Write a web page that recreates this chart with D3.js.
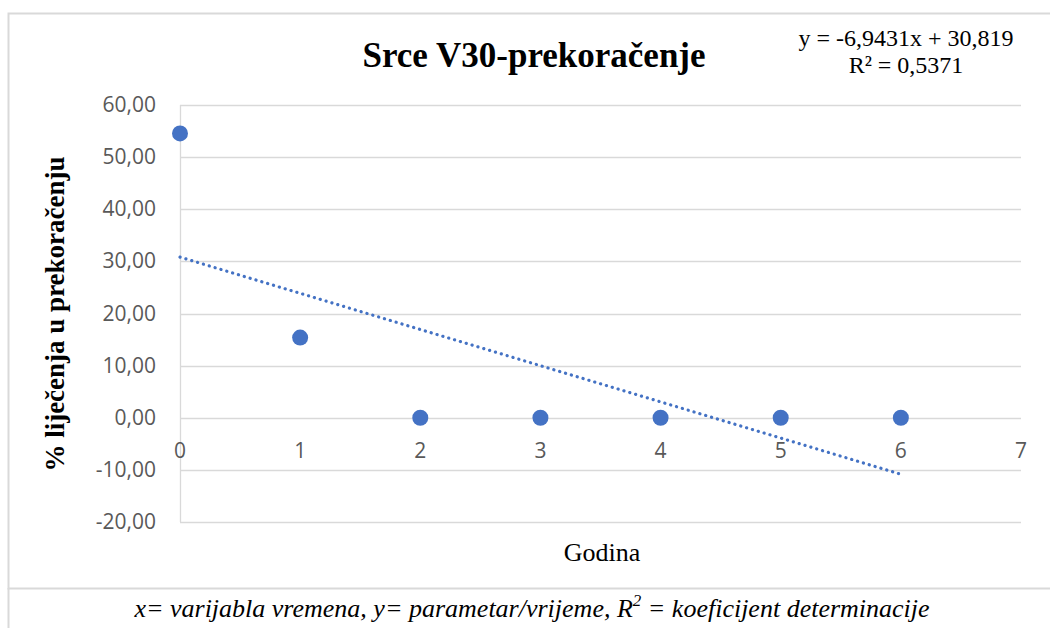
<!DOCTYPE html>
<html>
<head>
<meta charset="utf-8">
<script src="https://cdn.jsdelivr.net/npm/d3@7"></script>
<style>
body { margin:0; background:#fff; }
</style>
</head>
<body>
<script>
// data
var years = [0, 1, 2, 3, 4, 5, 6];
var percent = [54.55, 15.38, 0, 0, 0, 0, 0];
var trend = { slope: -6.9431, intercept: 30.819, r2: 0.5371 };
var yTicks = [-20, -10, 0, 10, 20, 30, 40, 50, 60];
var xTicks = [0, 1, 2, 3, 4, 5, 6, 7];

var W = 1050, H = 628;
var svg = d3.select("body").append("svg")
	.attr("width", W)
	.attr("height", H);

var blue = "#4472C4";
var grid = "#d9d9d9";
var serif = "'Liberation Serif','Times New Roman',serif";
var sans = "'Open Sans','Liberation Sans',sans-serif";

// comma decimals, plain hyphen minus
var loc = d3.formatLocale({ decimal: ",", thousands: ".", grouping: [3], currency: ["", ""], minus: "-" });
var fmt = function(v, p){ return loc.format("." + p + "f")(v); };

// chart frame
svg.append("rect")
	.attr("x", 8.5).attr("y", 13.5)
	.attr("width", 1100).attr("height", 575)
	.attr("fill", "none").attr("stroke", grid).attr("stroke-width", 2);
svg.append("line")
	.attr("x1", 8.5).attr("x2", 8.5).attr("y1", 588).attr("y2", H)
	.attr("stroke", grid).attr("stroke-width", 2);

var x = d3.scaleLinear().domain([0, 7]).range([180, 1021]);
var y = d3.scaleLinear().domain([-20, 60]).range([522, 105]);

// horizontal gridlines
svg.append("g").selectAll("line").data(yTicks)
	.enter().append("line")
	.attr("x1", x(0)).attr("x2", x(7))
	.attr("y1", function(d){ return Math.round(y(d)) + 0.5; })
	.attr("y2", function(d){ return Math.round(y(d)) + 0.5; })
	.attr("stroke", grid).attr("stroke-width", 1.3);

// vertical axis line
svg.append("line")
	.attr("x1", x(0) + 0.5).attr("x2", x(0) + 0.5)
	.attr("y1", y(60)).attr("y2", y(-20))
	.attr("stroke", grid).attr("stroke-width", 1.3);

// y tick labels
svg.append("g").selectAll("text").data(yTicks)
	.enter().append("text")
	.attr("x", 156)
	.attr("y", function(d){ return y(d) + 7; })
	.attr("text-anchor", "end")
	.attr("font-family", sans).attr("font-size", 21)
	.attr("fill", "#595959")
	.text(function(d){ return fmt(d, 2); });

// x tick labels, sitting under the zero line
svg.append("g").selectAll("text").data(xTicks)
	.enter().append("text")
	.attr("x", function(d){ return x(d); })
	.attr("y", y(0) + 40)
	.attr("text-anchor", "middle")
	.attr("font-family", sans).attr("font-size", 21)
	.attr("fill", "#595959")
	.text(function(d){ return d; });

// trendline
var line = d3.line()
	.x(function(d){ return x(d); })
	.y(function(d){ return y(trend.slope * d + trend.intercept); });
svg.append("path")
	.attr("d", line([years[0], years[years.length - 1]]))
	.attr("fill", "none")
	.attr("stroke", blue).attr("stroke-width", 3.2)
	.attr("stroke-linecap", "round")
	.attr("stroke-dasharray", "0.1 6");

// points
svg.append("g").selectAll("circle").data(years)
	.enter().append("circle")
	.attr("cx", function(d){ return x(d); })
	.attr("cy", function(d, i){ return y(percent[i]); })
	.attr("r", 8)
	.attr("fill", blue);

// title
svg.append("text")
	.attr("x", 534).attr("y", 67)
	.attr("text-anchor", "middle")
	.attr("font-family", serif).attr("font-weight", "bold").attr("font-size", 35)
	.text("Srce V30-prekoračenje");

// trend equation
svg.append("text")
	.attr("x", 906).attr("y", 46)
	.attr("text-anchor", "middle")
	.attr("font-family", serif).attr("font-size", 24)
	.text("y = " + fmt(trend.slope, 4) + "x  + " + fmt(trend.intercept, 3));
svg.append("text")
	.attr("x", 906).attr("y", 73)
	.attr("text-anchor", "middle")
	.attr("font-family", serif).attr("font-size", 24)
	.text("R² = " + fmt(trend.r2, 4));

// axis titles
svg.append("text")
	.attr("transform", "translate(64,314) rotate(-90)")
	.attr("text-anchor", "middle")
	.attr("font-family", serif).attr("font-weight", "bold").attr("font-size", 27)
	.text("% liječenja u prekoračenju");

svg.append("text")
	.attr("x", 602).attr("y", 561)
	.attr("text-anchor", "middle")
	.attr("font-family", serif).attr("font-size", 26)
	.text("Godina");

// caption
var cap = svg.append("text")
	.attr("x", 532).attr("y", 617)
	.attr("text-anchor", "middle")
	.attr("font-family", serif).attr("font-style", "italic").attr("font-size", 26);
cap.append("tspan").text("x= varijabla vremena, y= parametar/vrijeme, R");
cap.append("tspan").attr("dy", -11).attr("font-size", 17).text("2");
cap.append("tspan").attr("dy", 11).text(" = koeficijent determinacije");
</script>
</body>
</html>
